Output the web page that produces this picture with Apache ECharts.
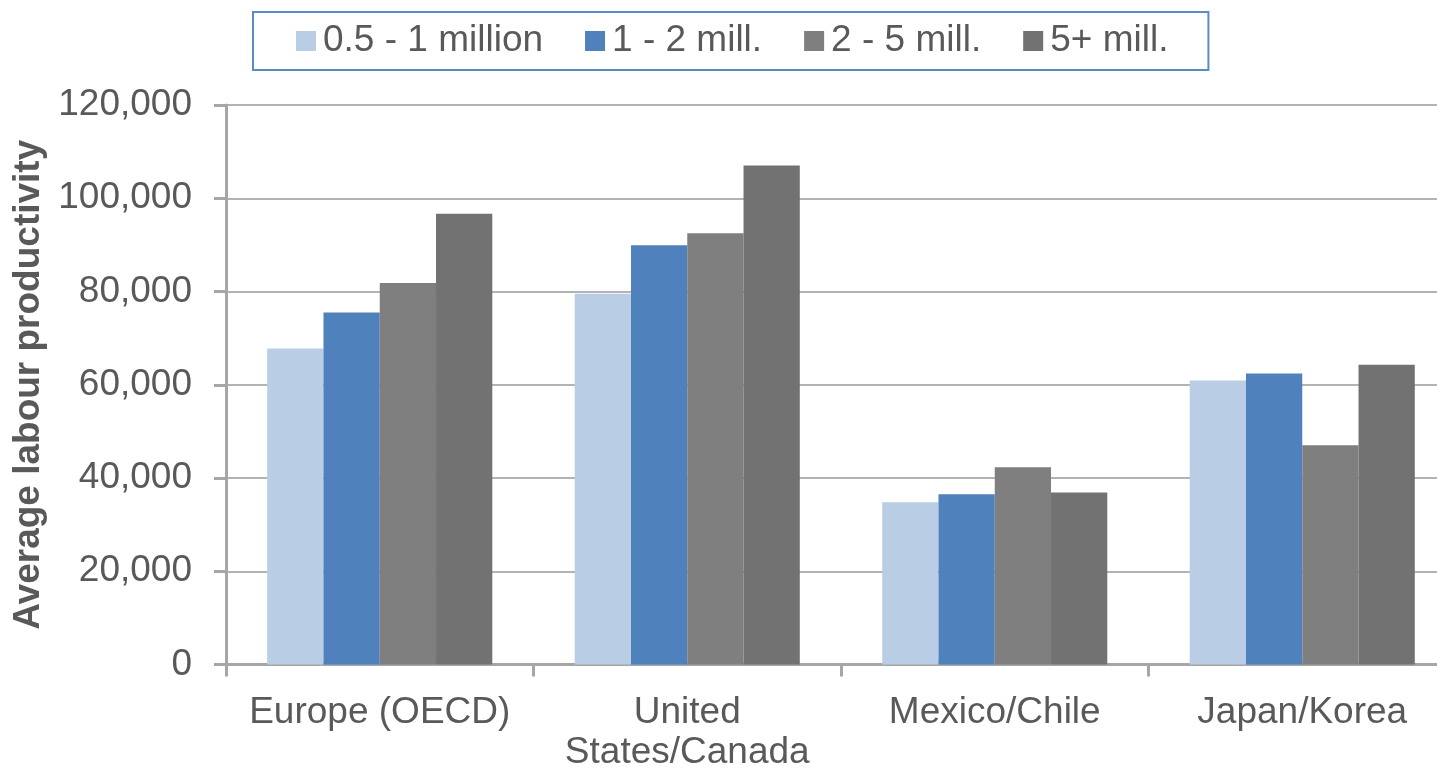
<!DOCTYPE html>
<html>
<head>
<meta charset="utf-8">
<script src="https://cdn.jsdelivr.net/npm/echarts@6/dist/echarts.min.js"></script>
<style>
  html, body { margin: 0; padding: 0; background: #ffffff; overflow: hidden; }
  #chart { width: 1437px; height: 768px; }
</style>
</head>
<body>
<div id="chart"></div>
<script>
// Regions and population-size groups
const regions = ['Europe (OECD)', 'United States/Canada', 'Mexico/Chile', 'Japan/Korea'];
const sizeGroups = ['0.5 - 1 million', '1 - 2 mill.', '2 - 5 mill.', '5+ mill.'];

// Average labour productivity per region, one array per size group
const pop05to1 = [67800, 79500, 34800, 60900];
const pop1to2 = [75500, 89900, 36500, 62400];
const pop2to5 = [81800, 92500, 42300, 47000];
const pop5plus = [96700, 107000, 36900, 64300];

const axisTitle = 'Average labour productivity';
const yTicks = { min: 0, max: 120000, interval: 20000 };

const groupColors = ['#b9cde5', '#4f81bd', '#7f7f7f', '#727272'];
const seriesValues = [pop05to1, pop1to2, pop2to5, pop5plus];

const textColor = '#595959';
const fontFamily = 'Liberation Sans, Arial, sans-serif';

const chart = echarts.init(document.getElementById('chart'), null, { renderer: 'canvas' });

chart.setOption({
  animation: false,
  backgroundColor: '#ffffff',
  textStyle: { fontFamily: fontFamily },
  legend: {
    left: 253,
    top: 12,
    icon: 'rect',
    itemWidth: 20,
    itemHeight: 20,
    itemGap: 42,
    padding: [9, 40, 9, 43],
    borderColor: '#5b8ac6',
    borderWidth: 2,
    backgroundColor: '#ffffff',
    textStyle: {
      fontSize: 37,
      color: textColor,
      fontFamily: fontFamily,
      lineHeight: 40,
      padding: [0, 0, 0, 2]
    },
    data: sizeGroups
  },
  grid: {
    left: 226,
    right: -19,
    top: 105,
    bottom: 103.5,
    containLabel: false,
    outerBoundsMode: 'none'
  },
  xAxis: {
    type: 'category',
    data: regions,
    axisLine: { show: true, lineStyle: { color: '#a6a6a6', width: 3 } },
    axisTick: { show: true, length: 12, lineStyle: { color: '#a6a6a6', width: 3 } },
    axisLabel: {
      fontSize: 37,
      color: textColor,
      lineHeight: 40,
      margin: 28,
      interval: 0,
      // long region names wrap after their first word
      formatter: function (v) { return v.length > 15 ? v.replace(' ', '\n') : v; }
    }
  },
  yAxis: {
    type: 'value',
    min: yTicks.min,
    max: yTicks.max,
    interval: yTicks.interval,
    name: axisTitle,
    nameLocation: 'middle',
    nameRotate: 90,
    nameGap: 167,
    nameTextStyle: {
      fontSize: 37,
      fontWeight: 'bold',
      color: textColor
    },
    axisLine: { show: true, lineStyle: { color: '#a6a6a6', width: 3 } },
    axisTick: { show: true, length: 12, lineStyle: { color: '#a6a6a6', width: 3 } },
    splitLine: { show: true, lineStyle: { color: '#b3b3b3', width: 2 } },
    axisLabel: {
      fontSize: 37,
      color: textColor,
      margin: 34,
      formatter: function (v) { return v.toLocaleString('en-US'); }
    }
  },
  series: sizeGroups.map(function (name, i) {
    return {
      name: name,
      type: 'bar',
      data: seriesValues[i],
      barGap: '0%',
      barCategoryGap: '26.8%',
      itemStyle: { color: groupColors[i] }
    };
  })
});
</script>
</body>
</html>
